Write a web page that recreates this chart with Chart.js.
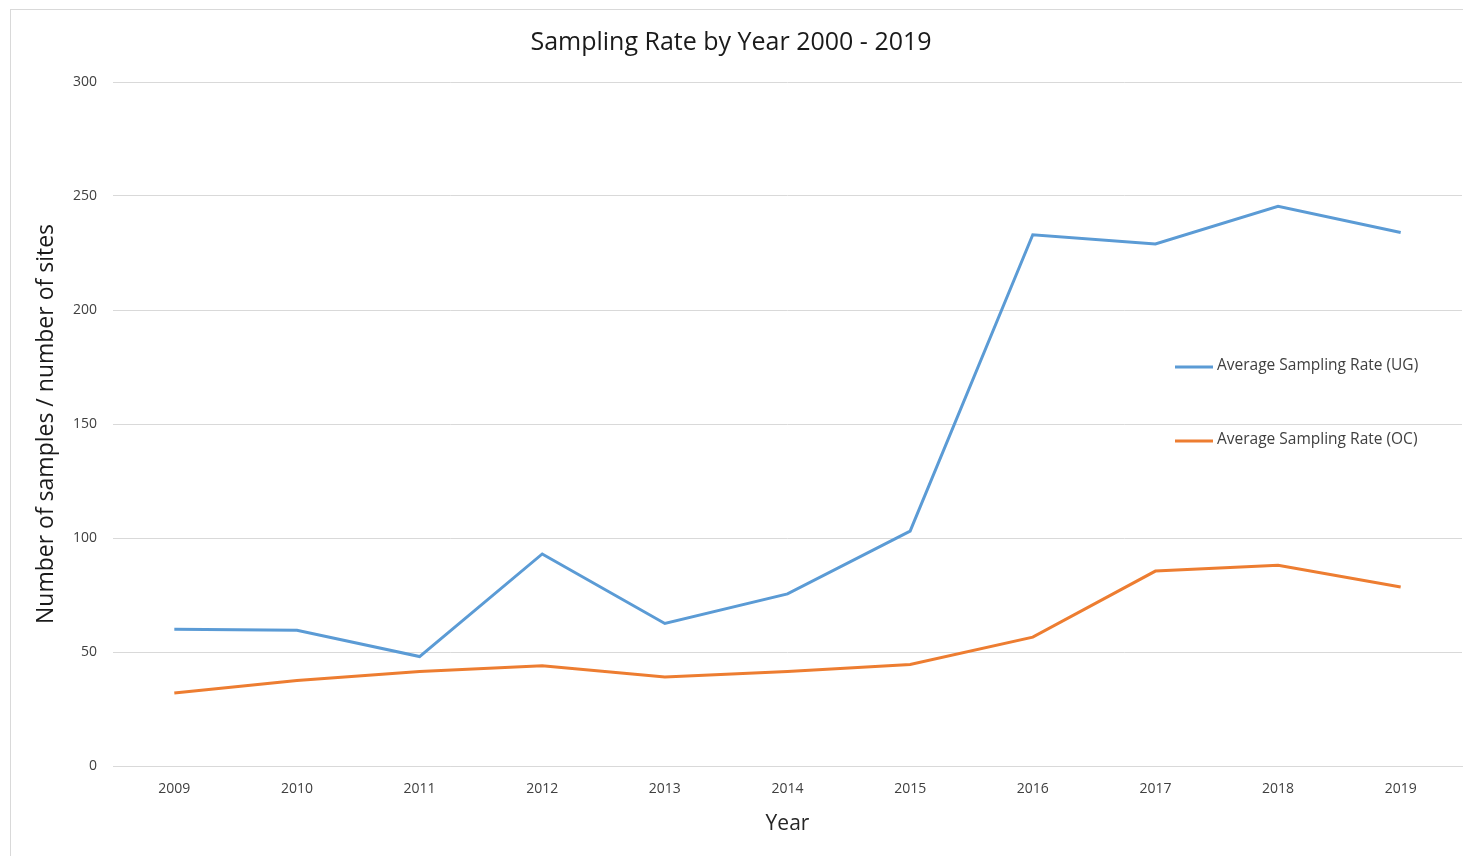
<!DOCTYPE html>
<html>
<head>
<meta charset="utf-8">
<script src="https://cdn.jsdelivr.net/npm/chart.js@4"></script>
<style>
  html, body { margin: 0; padding: 0; background: #fff; overflow: hidden; }
  #frame { position: absolute; left: 10px; top: 9px; width: 1500px; height: 900px; border: 1px solid #d9d9d9; }
  #wrap { position: absolute; left: 0; top: 0; width: 1463px; height: 856px; }
</style>
</head>
<body>
<div id="frame"></div>
<div id="wrap"><canvas id="grafico"></canvas></div>
<script>
const anos = ['2009', '2010', '2011', '2012', '2013', '2014', '2015', '2016', '2017', '2018', '2019'];
const taxaUG = [60, 59.5, 48, 93, 62.5, 75.5, 103, 233, 229, 245.5, 234];
const taxaOC = [32, 37.5, 41.5, 44, 39, 41.5, 44.5, 56.5, 85.5, 88, 78.5];
const ticksY = [0, 50, 100, 150, 200, 250, 300];

const fonte = '"Open Sans", Lato, sans-serif';

// legenda desenhada sobre a área do gráfico, como no Excel
const legendaDentro = {
  id: 'legendaDentro',
  afterDraw(chart) {
    const ctx = chart.ctx;
    const linhas = [367, 441];
    ctx.save();
    ctx.font = '15.5px ' + fonte;
    ctx.textBaseline = 'middle';
    chart.data.datasets.forEach((ds, i) => {
      const y = linhas[i];
      ctx.strokeStyle = ds.borderColor;
      ctx.lineWidth = 3;
      ctx.beginPath();
      ctx.moveTo(1175, y);
      ctx.lineTo(1213, y);
      ctx.stroke();
      ctx.fillStyle = '#404040';
      ctx.fillText(ds.label, 1217, y - 1);
    });
    ctx.restore();
  }
};

const ctx = document.getElementById('grafico').getContext('2d');
window.graficoAtual = new Chart(ctx, {
  type: 'line',
  data: {
    labels: anos,
    datasets: [{
      label: 'Average Sampling Rate (UG)',
      data: taxaUG,
      borderColor: '#5B9BD5',
      borderWidth: 3,
      pointRadius: 0,
      fill: false,
      tension: 0
    }, {
      label: 'Average Sampling Rate (OC)',
      data: taxaOC,
      borderColor: '#ED7D31',
      borderWidth: 3,
      pointRadius: 0,
      fill: false,
      tension: 0
    }]
  },
  options: {
    responsive: true,
    maintainAspectRatio: false,
    animation: false,
    layout: { padding: { left: 0, right: 1, top: 0, bottom: 0 } },
    plugins: {
      legend: { display: false },
      tooltip: { enabled: false },
      title: {
        display: true,
        text: 'Sampling Rate by Year 2000 - 2019',
        color: '#1a1a1a',
        font: { family: fonte, size: 25, weight: 'normal', lineHeight: 1.2 },
        padding: { top: 28, bottom: 24 }
      }
    },
    scales: {
      x: {
        offset: true,
        grid: { display: false, drawTicks: false },
        border: { display: true, color: '#d9d9d9' },
        ticks: { color: '#404040', font: { family: fonte, size: 14 }, padding: 15, maxRotation: 0 },
        title: {
          display: true,
          text: 'Year',
          color: '#262626',
          font: { family: fonte, size: 21, lineHeight: 1.2 },
          padding: { top: 0, bottom: 19 }
        },
        afterFit(scale) { scale.height = 90; }
      },
      y: {
        min: 0,
        max: 300,
        afterBuildTicks(scale) { scale.ticks = ticksY.map(v => ({ value: v })); },
        grid: { color: '#d9d9d9', drawTicks: false },
        border: { display: false },
        ticks: { color: '#404040', font: { family: fonte, size: 14 }, padding: 16 },
        title: {
          display: true,
          text: 'Number of samples / number of sites',
          color: '#1a1a1a',
          font: { family: fonte, size: 23, lineHeight: 1.2 },
          padding: { top: 33, bottom: 0 }
        },
        afterFit(scale) { scale.width = 113; }
      }
    }
  },
  plugins: [legendaDentro]
});
</script>
</body>
</html>
